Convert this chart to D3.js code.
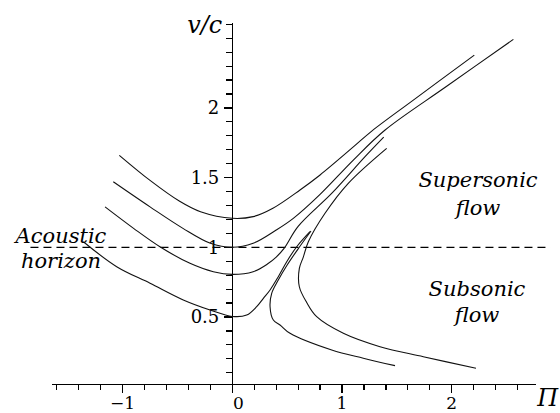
<!DOCTYPE html>
<html>
<head>
<meta charset="utf-8">
<script src="https://cdn.jsdelivr.net/npm/d3@7"></script>
<style>
  body { margin: 0; background: #fff; }
  svg { display: block; }
</style>
</head>
<body>
<svg id="chart" width="560" height="413"></svg>
<script>
// traced curves, [Pi, v/c]
const curveTop = [[-1.03,1.66],[-0.75,1.48],[-0.48,1.33],[-0.29,1.255],[0,1.208],[0.19,1.22],[0.37,1.28],[0.617,1.411],[0.80,1.519],[1.103,1.72],[1.271,1.834],[1.65,2.056],[2.206,2.379]];
const curveCritical = [[-1.085,1.47],[-0.75,1.29],[-0.45,1.136],[-0.20,1.029],[0,1.0],[0.19,1.029],[0.40,1.124],[0.556,1.208],[0.80,1.38],[1.103,1.626],[1.39,1.84],[1.954,2.155],[2.562,2.492]];
const curveMid = [[-1.16,1.29],[-0.90,1.136],[-0.66,1.004],[-0.386,0.885],[-0.173,0.825],[0,0.806],[0.19,0.825],[0.32,0.88],[0.40,0.93],[0.47,0.99],[0.60,1.15],[0.91,1.39],[1.21,1.65],[1.38,1.79]];
const curveLow = [[-1.358,1.04],[-1.054,0.861],[-0.75,0.742],[-0.447,0.622],[-0.203,0.55],[0,0.504],[0.131,0.514],[0.222,0.574],[0.283,0.634],[0.344,0.694],[0.419,0.789],[0.496,0.897],[0.587,1.004],[0.708,1.112]];
const branchInner = [[1.483,0.151],[1.194,0.204],[0.906,0.263],[0.526,0.383],[0.435,0.443],[0.374,0.478],[0.344,0.574],[0.359,0.67],[0.419,0.765],[0.50,0.873],[0.61,1.0],[0.717,1.117]];
const branchOuter = [[2.221,0.132],[1.741,0.215],[1.346,0.287],[1.012,0.383],[0.769,0.502],[0.678,0.604],[0.611,0.717],[0.611,0.849],[0.647,0.93],[0.693,1.04],[0.845,1.244],[1.057,1.459],[1.407,1.71]];
const horizon = [[-1.84,1],[2.9,1]];

const xMajorTicks = [-1, 0, 1, 2];
const xTickLabels = ["\u22121", "0", "1", "2"];
const yMajorTicks = [0.5, 1, 1.5, 2];
const yTickLabels = ["0.5", "1", "1.5", "2"];
const xMinorTicks = [-1.6,-1.4,-1.2,-0.8,-0.6,-0.4,-0.2,0.2,0.4,0.6,0.8,1.2,1.4,1.6,1.8,2.2,2.4,2.6];
const yMinorTicks = [0.1,0.2,0.3,0.4,0.6,0.7,0.8,0.9,1.1,1.2,1.3,1.4,1.6,1.7,1.8,1.9,2.1,2.2,2.3,2.4,2.5,2.6];

const leftText = ["Acoustic", "horizon"];
const upperText = ["Supersonic", "flow"];
const lowerText = ["Subsonic", "flow"];

const svg = d3.select('#chart');

const x = d3.scaleLinear().domain([-1.64, 2.77]).range([52.4, 536.2]);
const y = d3.scaleLinear().domain([0.015, 2.61]).range([384.6, 22.9]);
const y0 = y(0.015);

const serif = "'DejaVu Serif', serif";

// axes
const axes = svg.append("g")
    .attr("stroke", "#000")
    .attr("stroke-width", 1.2)
    .attr("shape-rendering", "crispEdges");

axes.append("line")
    .attr("x1", x(-1.64)).attr("x2", x(2.77))
    .attr("y1", y0).attr("y2", y0);
axes.append("line")
    .attr("x1", x(0)).attr("x2", x(0))
    .attr("y1", y0).attr("y2", y(2.61));

axes.selectAll(".xmin").data(xMinorTicks).join("line")
    .attr("x1", d => x(d)).attr("x2", d => x(d))
    .attr("y1", y0).attr("y2", y0 + 5);
axes.selectAll(".xmaj").data(xMajorTicks).join("line")
    .attr("x1", d => x(d)).attr("x2", d => x(d))
    .attr("y1", y0).attr("y2", y0 + 8);
axes.selectAll(".ymin").data(yMinorTicks).join("line")
    .attr("x1", x(0) - 6).attr("x2", x(0))
    .attr("y1", d => y(d)).attr("y2", d => y(d));
axes.selectAll(".ymaj").data(yMajorTicks).join("line")
    .attr("x1", x(0) - 8).attr("x2", x(0))
    .attr("y1", d => y(d)).attr("y2", d => y(d));

// tick labels
svg.append("g")
    .attr("font-family", serif)
    .attr("font-size", 17)
    .attr("text-anchor", "middle")
    .selectAll("text")
    .data(xMajorTicks)
    .join("text")
    .attr("x", d => x(d) + (d === 0 ? 6 : 0))
    .attr("y", y0 + 24)
    .text((d, i) => xTickLabels[i]);

svg.append("g")
    .attr("font-family", serif)
    .attr("font-size", 18)
    .attr("text-anchor", "end")
    .selectAll("text")
    .data(yMajorTicks)
    .join("text")
    .attr("x", x(0) - 13)
    .attr("y", d => y(d))
    .attr("dy", "0.36em")
    .text((d, i) => yTickLabels[i]);

// axis titles
svg.append("text")
    .attr("font-family", serif)
    .attr("font-style", "italic")
    .attr("font-size", 24)
    .attr("text-anchor", "end")
    .attr("x", x(0) - 10)
    .attr("y", 33)
    .text("v/c");

svg.append("text")
    .attr("font-family", serif)
    .attr("font-style", "italic")
    .attr("font-size", 24)
    .attr("x", x(2.77) + 1)
    .attr("y", 406)
    .text("\u03A0");

// horizon
const line = d3.line()
    .x(d => x(d[0]))
    .y(d => y(d[1]));

svg.append("path")
    .attr("d", line(horizon))
    .attr("fill", "none")
    .attr("stroke", "#000")
    .attr("stroke-width", 1.2)
    .attr("stroke-dasharray", "8,5");

// curves
const smooth = d3.line()
    .x(d => x(d[0]))
    .y(d => y(d[1]))
    .curve(d3.curveCatmullRom.alpha(0.5));

svg.append("g")
    .attr("fill", "none")
    .attr("stroke", "#111")
    .attr("stroke-width", 1.1)
    .selectAll("path")
    .data([curveTop, curveCritical, curveMid, curveLow, branchInner, branchOuter])
    .join("path")
    .attr("d", smooth);

// region labels
const note = (lines, cx, by, gap) => {
    svg.append("g")
        .attr("font-family", serif)
        .attr("font-style", "italic")
        .attr("font-size", 21)
        .attr("text-anchor", "middle")
        .selectAll("text")
        .data(lines)
        .join("text")
        .attr("x", cx)
        .attr("y", (d, i) => by + i * gap)
        .text(d => d);
};

note(leftText, 61, 243, 25);
note(upperText, 478, 187, 28);
note(lowerText, 477, 296, 26);
</script>
</body>
</html>
